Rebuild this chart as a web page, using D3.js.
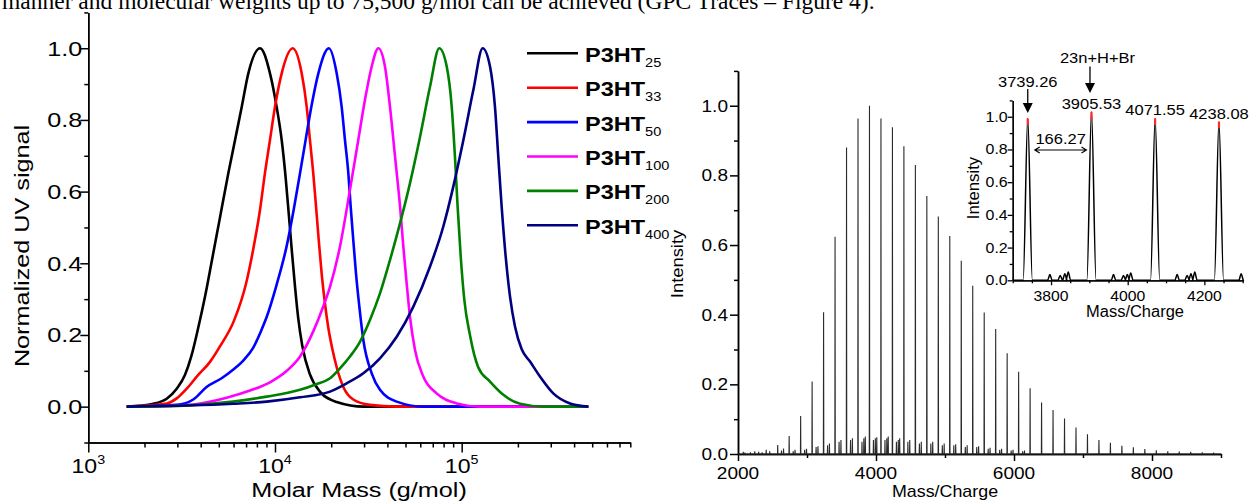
<!DOCTYPE html>
<html>
<head>
<meta charset="utf-8">
<script src="https://cdn.jsdelivr.net/npm/d3@7"></script>
<style>
  body { margin: 0; background: #fff; }
  svg { display: block; font-family: "Liberation Sans", Arial, Helvetica, sans-serif; }
</style>
</head>
<body>
<svg id="fig" width="1257" height="503"></svg>
<script>
// ---- GPC traces (left), molar mass in g/mol vs normalized UV signal ----
var gpcNames = ["25", "33", "50", "100", "200", "400"];
var gpcColors = ["#000000", "#ff0000", "#0000ff", "#ff00ff", "#008000", "#000080"];

var gpc25 = [[1607,0],[2230,0.008],[2630,0.022],[2975,0.05],[3293,0.088],[3560,0.14],[3880,0.22],[4230,0.31],
  [4600,0.41],[5000,0.51],[5623,0.651],[6110,0.744],[6637,0.837],[7197,0.93],[8318,1.0],[9400,0.93],[10200,0.837],
  [10860,0.744],[11400,0.64],[11885,0.53],[12330,0.43],[12800,0.335],[13330,0.245],[14000,0.17],[15390,0.09],
  [17400,0.042],[21400,0.013],[30000,0],[476000,0]];
var gpc33 = [[1607,0],[2630,0.009],[2975,0.023],[3365,0.05],[3870,0.088],[4487,0.125],[5072,0.168],[6032,0.24],
  [7010,0.345],[7650,0.44],[8318,0.55],[8830,0.651],[9400,0.744],[10000,0.837],[10860,0.93],[12440,1.0],[13900,0.93],
  [14780,0.837],[15390,0.744],[16030,0.651],[16590,0.558],[17150,0.465],[17790,0.37],[18500,0.29],[19300,0.22],
  [20300,0.16],[21400,0.11],[23230,0.055],[26260,0.02],[32260,0.005],[44880,0],[476000,0]];
var gpc50 = [[1607,0],[2975,0.005],[3648,0.02],[4300,0.055],[5200,0.08],[5960,0.103],[6800,0.13],[7650,0.165],
  [8400,0.21],[9020,0.25],[10200,0.34],[11570,0.45],[12600,0.55],[13600,0.65],[14600,0.745],[15700,0.84],[17070,0.93],
  [19450,1.0],[21400,0.93],[22750,0.837],[23700,0.744],[24710,0.651],[25430,0.558],[26260,0.465],[27150,0.372],
  [28300,0.279],[29730,0.186],[32960,0.093],[36500,0.047],[44880,0.014],[62270,0],[476000,0]];
var gpc100 = [[1607,0],[3000,0.003],[3648,0.006],[5508,0.025],[7345,0.045],[9400,0.068],[11570,0.1],[13620,0.14],
  [16030,0.21],[18150,0.28],[19720,0.335],[22290,0.447],[25210,0.605],[27930,0.744],[30340,0.856],[32960,0.949],
  [35760,1.0],[38810,0.949],[41290,0.837],[43940,0.698],[46760,0.558],[48680,0.447],[50720,0.344],[52830,0.251],
  [56220,0.158],[62270,0.084],[73400,0.037],[93940,0.009],[125200,0],[476000,0]];
var gpc200 = [[1607,0],[3220,0.003],[5960,0.014],[9020,0.028],[13620,0.047],[16500,0.062],[19720,0.079],[22290,0.107],
  [25210,0.14],[28510,0.181],[32260,0.242],[36500,0.316],[41290,0.409],[46760,0.512],[52830,0.623],[59840,0.753],
  [67680,0.893],[75820,1.0],[83130,0.949],[88400,0.837],[92000,0.698],[95100,0.558],[98800,0.419],[103300,0.298],
  [110700,0.2],[122600,0.11],[141800,0.07],[167200,0.033],[205300,0.008],[273700,0],[476000,0]];
var gpc400 = [[1607,0],[5960,0.008],[9020,0.014],[13620,0.026],[19720,0.042],[24200,0.065],[29730,0.093],[36500,0.135],
  [44880,0.195],[55090,0.279],[67680,0.391],[79640,0.502],[90150,0.614],[102100,0.744],[115500,0.884],[129500,1.0],
  [141800,0.949],[150700,0.837],[157000,0.698],[163700,0.558],[172000,0.419],[181500,0.307],[193100,0.223],
  [209600,0.16],[232300,0.126],[262600,0.084],[309400,0.037],[380400,0.009],[476400,0]];
var gpcSeries = [gpc25, gpc33, gpc50, gpc100, gpc200, gpc400];

var gpcDecades = [1000, 10000, 100000];
var gpcDecadeExp = ["3", "4", "5"];
var uvTicks = [0, 0.2, 0.4, 0.6, 0.8, 1.0];
var uvTickLabels = ["0.0", "0.2", "0.4", "0.6", "0.8", "1.0"];
var uvMinor = [-0.1, 0.1, 0.3, 0.5, 0.7, 0.9, 1.1];

// ---- MALDI spectrum (right) ----
var msMass = [2076.6, 2242.8, 2409.1, 2575.4, 2741.6, 2907.9, 3074.2, 3240.4, 3406.7, 3573.0, 3739.3, 3905.5,
  4071.8, 4238.1, 4404.4, 4570.7, 4736.9, 4903.2, 5069.5, 5235.7, 5402.0, 5568.3, 5734.5, 5900.8, 6067.1, 6233.4,
  6399.6, 6565.9, 6732.2, 6898.4, 7064.7, 7231.0, 7397.3, 7563.5, 7729.8, 7896.1, 8062.3, 8228.6, 8394.9, 8561.2,
  8727.4, 8893.7];
var msInt = [0.006, 0.008, 0.012, 0.026, 0.052, 0.109, 0.208, 0.407, 0.624, 0.88, 0.963, 1.0, 0.963, 0.938, 0.884,
  0.83, 0.741, 0.682, 0.626, 0.555, 0.483, 0.406, 0.359, 0.289, 0.236, 0.189, 0.148, 0.126, 0.102, 0.076, 0.057,
  0.04, 0.032, 0.024, 0.019, 0.014, 0.011, 0.008, 0.007, 0.006, 0.005, 0.004];
// small side peaks between the main series
var satMass = [2100, 2180, 2300, 2350, 2460, 2630, 2660, 2800, 2827, 2966, 2993, 3132, 3159, 3298, 3325, 3465, 3492,
  3631, 3658, 3797, 3824, 3845, 3963, 3990, 4011, 4130, 4157, 4177, 4296, 4323, 4343, 4462, 4489, 4629, 4656, 4795,
  4822, 4961, 4988, 5128, 5155, 5294, 5321, 5460, 5487, 5626, 5653, 5793, 5820, 5959, 5986, 6125, 6152];
var satInt = [0.004, 0.005, 0.006, 0.005, 0.008, 0.01, 0.016, 0.008, 0.012, 0.012, 0.015, 0.02, 0.022, 0.025, 0.03,
  0.035, 0.04, 0.04, 0.045, 0.035, 0.045, 0.05, 0.04, 0.045, 0.048, 0.04, 0.045, 0.05, 0.035, 0.04, 0.045, 0.035,
  0.04, 0.03, 0.035, 0.03, 0.035, 0.025, 0.03, 0.025, 0.028, 0.02, 0.025, 0.02, 0.022, 0.015, 0.018, 0.012, 0.015,
  0.01, 0.012, 0.008, 0.01];
var msTicks = [2000, 4000, 6000, 8000];
var msMinor = [3000, 5000, 7000, 9000];
var intTicks = [0, 0.2, 0.4, 0.6, 0.8, 1.0];
var intTickLabels = ["0.0", "0.2", "0.4", "0.6", "0.8", "1.0"];
var intMinor = [0.1, 0.3, 0.5, 0.7, 0.9, 1.1];

// ---- inset ----
var insetMass = [3739.26, 3905.53, 4071.55, 4238.08];
var insetBody = [0.95, 0.98, 0.95, 0.93];
var insetTop = [0.99, 1.03, 0.99, 0.97];
var insetLabels = ["3739.26", "3905.53", "4071.55", "4238.08"];
var bumpMass = [3797, 3824, 3836, 3845, 3963, 3989, 3999, 4008, 4129, 4155, 4165, 4175, 4296];
var bumpInt = [0.035, 0.03, 0.04, 0.05, 0.035, 0.03, 0.035, 0.045, 0.035, 0.03, 0.04, 0.05, 0.04];
var insetXTicks = [3800, 4000, 4200];
var insetXMinor = [3700, 3750, 3850, 3900, 3950, 4050, 4100, 4150, 4250, 4300];

var svg = d3.select("#fig");

function addText(parent, x, y, str, size, opts) {
  opts = opts || {};
  var tr = "translate(" + x + "," + y + ")";
  if (opts.rotate) tr += " rotate(" + opts.rotate + ")";
  tr += " scale(" + (opts.sx || 1) + ",1)";
  return parent.append("text")
    .attr("transform", tr)
    .attr("text-anchor", opts.anchor || "start")
    .attr("font-size", size)
    .attr("font-weight", opts.bold ? "bold" : null)
    .attr("fill", "#000")
    .text(str);
}

function styleAxis(g, w) {
  g.selectAll("path, line").attr("stroke", "#000").attr("stroke-width", w || 1.5);
  g.selectAll("text").remove();
}

// top text line, cut by the crop of the page
svg.append("text")
  .attr("x", 2).attr("y", 9)
  .attr("font-family", "'Liberation Serif', 'Times New Roman', serif")
  .attr("font-size", 23.5)
  .text("manner and molecular weights up to 75,500 g/mol can be achieved (GPC Traces \u2013 Figure 4).");

// ================= left chart =================
var left = svg.append("g");
var xL = d3.scaleLog().domain([1000, 800000]).range([88.3, 630.3]);
var yL = d3.scaleLinear().domain([-0.1, 1.1]).range([442.5, 12.4]);
var LS = 1.2;

var decadeTest = function(v) { return Math.abs(Math.log10(v) - Math.round(Math.log10(v))) < 1e-6; };
left.append("g").attr("transform", "translate(0," + yL(-0.1) + ")")
  .call(d3.axisBottom(xL).tickValues(xL.ticks().filter(function(v) { return !decadeTest(v); }))
    .tickSize(5).tickSizeOuter(0))
  .call(styleAxis);
left.append("g").attr("transform", "translate(0," + yL(-0.1) + ")")
  .call(d3.axisBottom(xL).tickValues(gpcDecades).tickSize(10).tickSizeOuter(0))
  .call(styleAxis);
left.append("g").attr("transform", "translate(" + xL(1000) + ",0)")
  .call(d3.axisLeft(yL).tickValues(uvMinor).tickSize(4).tickSizeOuter(0))
  .call(styleAxis);
left.append("g").attr("transform", "translate(" + xL(1000) + ",0)")
  .call(d3.axisLeft(yL).tickValues(uvTicks).tickSize(8).tickSizeOuter(0))
  .call(styleAxis);

uvTicks.forEach(function(v, i) {
  addText(left, xL(1000) - 6, yL(v) + 7.5, uvTickLabels[i], 21, {anchor: "end", sx: LS});
});
gpcDecades.forEach(function(v, i) {
  var t = addText(left, xL(v), 473, "", 21, {anchor: "middle", sx: 1.1});
  t.append("tspan").text("10");
  t.append("tspan").attr("font-size", 13).attr("dy", -9).text(gpcDecadeExp[i]);
});
addText(left, 359, 497, "Molar Mass (g/mol)", 21, {anchor: "middle", sx: LS});
addText(left, 28.5, 246, "Normalized UV signal", 21, {anchor: "middle", sx: LS, rotate: -90});

var lineL = d3.line()
  .x(function(d) { return xL(d[0]); })
  .y(function(d) { return yL(d[1]); })
  .curve(d3.curveMonotoneX);

left.selectAll("path.gpc")
  .data(gpcSeries)
  .enter().append("path")
  .attr("class", "gpc")
  .attr("d", lineL)
  .attr("fill", "none")
  .attr("stroke", function(d, i) { return gpcColors[i]; })
  .attr("stroke-width", 2.6)
  .attr("stroke-linejoin", "round");

var legY = d3.scalePoint().domain(gpcNames).range([53.3, 225.3]);
var leg = left.append("g");
gpcNames.forEach(function(n, i) {
  leg.append("line")
    .attr("x1", 527).attr("x2", 578)
    .attr("y1", legY(n)).attr("y2", legY(n))
    .attr("stroke", gpcColors[i]).attr("stroke-width", 2.6);
  var t = addText(leg, 585, legY(n) + 8.4, "", 21, {sx: 1.12});
  t.append("tspan").attr("font-weight", "bold").text("P3HT");
  t.append("tspan").attr("font-size", 13).attr("dy", 5).text(n);
});

// ================= right chart =================
var right = svg.append("g");
var xR = d3.scaleLinear().domain([2000, 9000]).range([738, 1221]);
var yR = d3.scaleLinear().domain([0, 1.1]).range([454, 70.9]);
var RS = 1.12;

right.append("g").attr("transform", "translate(0," + yR(0) + ")")
  .call(d3.axisBottom(xR).tickValues(msMinor).tickSize(4).tickSizeOuter(0))
  .call(styleAxis);
right.append("g").attr("transform", "translate(0," + yR(0) + ")")
  .call(d3.axisBottom(xR).tickValues(msTicks).tickSize(7).tickSizeOuter(0))
  .call(styleAxis);
right.append("g").attr("transform", "translate(" + xR(2000) + ",0)")
  .call(d3.axisLeft(yR).tickValues(intMinor).tickSize(4).tickSizeOuter(0))
  .call(styleAxis);
right.append("g").attr("transform", "translate(" + xR(2000) + ",0)")
  .call(d3.axisLeft(yR).tickValues(intTicks).tickSize(8).tickSizeOuter(0))
  .call(styleAxis);

intTicks.forEach(function(v, i) {
  addText(right, xR(2000) - 10, yR(v) + 6, intTickLabels[i], 17, {anchor: "end", sx: RS});
});
msTicks.forEach(function(v) {
  addText(right, xR(v), 479, String(v), 17, {anchor: "middle", sx: RS});
});
addText(right, 945, 497, "Mass/Charge", 17, {anchor: "middle", sx: 1.05});
addText(right, 683, 264, "Intensity", 17, {anchor: "middle", sx: 1.08, rotate: -90});

// spectrum as one trace: every peak is a narrow spike on the baseline
var spikes = msMass.map(function(m, i) { return [m, msInt[i], 3]; })
  .concat(satMass.map(function(m, i) { return [m, satInt[i], 3]; }))
  .sort(function(a, b) { return a[0] - b[0]; });
function tracePoints(peaks, lo, hi) {
  var pts = [[lo, 0]];
  peaks.forEach(function(p) {
    pts.push([p[0] - p[2], 0], [p[0], p[1]], [p[0] + p[2], 0]);
  });
  pts.push([hi, 0]);
  return pts;
}
right.append("path")
  .datum(tracePoints(spikes, 2000, 9000))
  .attr("fill", "none")
  .attr("stroke", "#2a2a2a")
  .attr("stroke-width", 1.1)
  .attr("d", d3.line().x(function(d) { return xR(d[0]); }).y(function(d) { return yR(d[1]); }));

// ================= inset =================
var inset = svg.append("g");
var xI = d3.scaleLinear().domain([3700, 4300]).range([1012.7, 1242.7]);
var yI = d3.scaleLinear().domain([0, 1.1]).range([280.3, 100.4]);
var IS = 1.1;

inset.append("g").attr("transform", "translate(0," + yI(0) + ")")
  .call(d3.axisBottom(xI).tickValues(insetXMinor).tickSize(3).tickSizeOuter(0))
  .call(styleAxis, 1.3);
inset.append("g").attr("transform", "translate(0," + yI(0) + ")")
  .call(d3.axisBottom(xI).tickValues(insetXTicks).tickSize(5).tickSizeOuter(0))
  .call(styleAxis, 1.3);
inset.append("g").attr("transform", "translate(" + xI(3700) + ",0)")
  .call(d3.axisLeft(yI).tickValues(intMinor).tickSize(3).tickSizeOuter(0))
  .call(styleAxis, 1.3);
inset.append("g").attr("transform", "translate(" + xI(3700) + ",0)")
  .call(d3.axisLeft(yI).tickValues(intTicks).tickSize(5).tickSizeOuter(0))
  .call(styleAxis, 1.3);

intTicks.forEach(function(v, i) {
  addText(inset, xI(3700) - 5, yI(v) + 5, intTickLabels[i], 14.5, {anchor: "end", sx: IS});
});
insetXTicks.forEach(function(v) {
  addText(inset, xI(v), 300.7, String(v), 15, {anchor: "middle", sx: 1.05});
});
addText(inset, 1135, 316.7, "Mass/Charge", 16, {anchor: "middle", sx: 1.03});
addText(inset, 978.5, 188, "Intensity", 16, {anchor: "middle", sx: 1.05, rotate: -90});

var insetPeaks = insetMass.map(function(m, i) { return [m, insetTop[i], 12]; })
  .concat(bumpMass.map(function(m, i) { return [m, bumpInt[i], 6]; }))
  .sort(function(a, b) { return a[0] - b[0]; });
// rounded peak outline
var lineI = d3.line().x(function(d) { return xI(d[0]); }).y(function(d) { return yI(d[1]); })
  .curve(d3.curveMonotoneX);
inset.append("path")
  .datum(tracePoints(insetPeaks, 3700, 4300))
  .attr("fill", "none")
  .attr("stroke", "#000")
  .attr("stroke-width", 1.5)
  .attr("stroke-linejoin", "round")
  .attr("d", lineI);
// red tips on the four main peaks
inset.selectAll("line.tip")
  .data(insetMass)
  .enter().append("line")
  .attr("class", "tip")
  .attr("x1", function(m) { return xI(m); }).attr("x2", function(m) { return xI(m); })
  .attr("y1", function(m, i) { return yI(insetBody[i]); })
  .attr("y2", function(m, i) { return yI(insetTop[i]); })
  .attr("stroke", "#ff2a2a").attr("stroke-width", 2.2);

// peak labels
insetMass.forEach(function(m, i) {
  if (i === 0) {
    addText(inset, xI(m), 86.7, insetLabels[i], 15, {anchor: "middle", sx: IS});
  } else {
    addText(inset, xI(m), yI(insetTop[i]) - 3, insetLabels[i], 15, {anchor: "middle", sx: IS});
  }
});
addText(inset, xI(insetMass[1]) + 6, 63, "23n+H+Br", 15, {anchor: "middle", sx: IS});

function downArrow(x, y0, y1) {
  inset.append("line").attr("x1", x).attr("x2", x).attr("y1", y0).attr("y2", y1 - 8)
    .attr("stroke", "#000").attr("stroke-width", 1.3);
  inset.append("path")
    .attr("d", "M" + (x - 5) + "," + (y1 - 10) + "L" + (x + 5) + "," + (y1 - 10) + "L" + x + "," + y1 + "Z")
    .attr("fill", "#000");
}
downArrow(xI(insetMass[0]), 89, 113);
downArrow(xI(insetMass[1]) - 1.5, 66.5, 93);

// spacing arrow between the first two peaks
var ax0 = xI(insetMass[0]) + 7, ax1 = xI(insetMass[1]) - 5, ay = 150;
inset.append("path")
  .attr("d", "M" + ax0 + "," + ay + "H" + ax1 +
    "M" + (ax0 + 5) + "," + (ay - 3) + "L" + ax0 + "," + ay + "L" + (ax0 + 5) + "," + (ay + 3) +
    "M" + (ax1 - 5) + "," + (ay - 3) + "L" + ax1 + "," + ay + "L" + (ax1 - 5) + "," + (ay + 3))
  .attr("fill", "none").attr("stroke", "#000").attr("stroke-width", 1.1);
addText(inset, (ax0 + ax1) / 2, 143.5, "166.27", 15, {anchor: "middle", sx: IS});
</script>
</body>
</html>
